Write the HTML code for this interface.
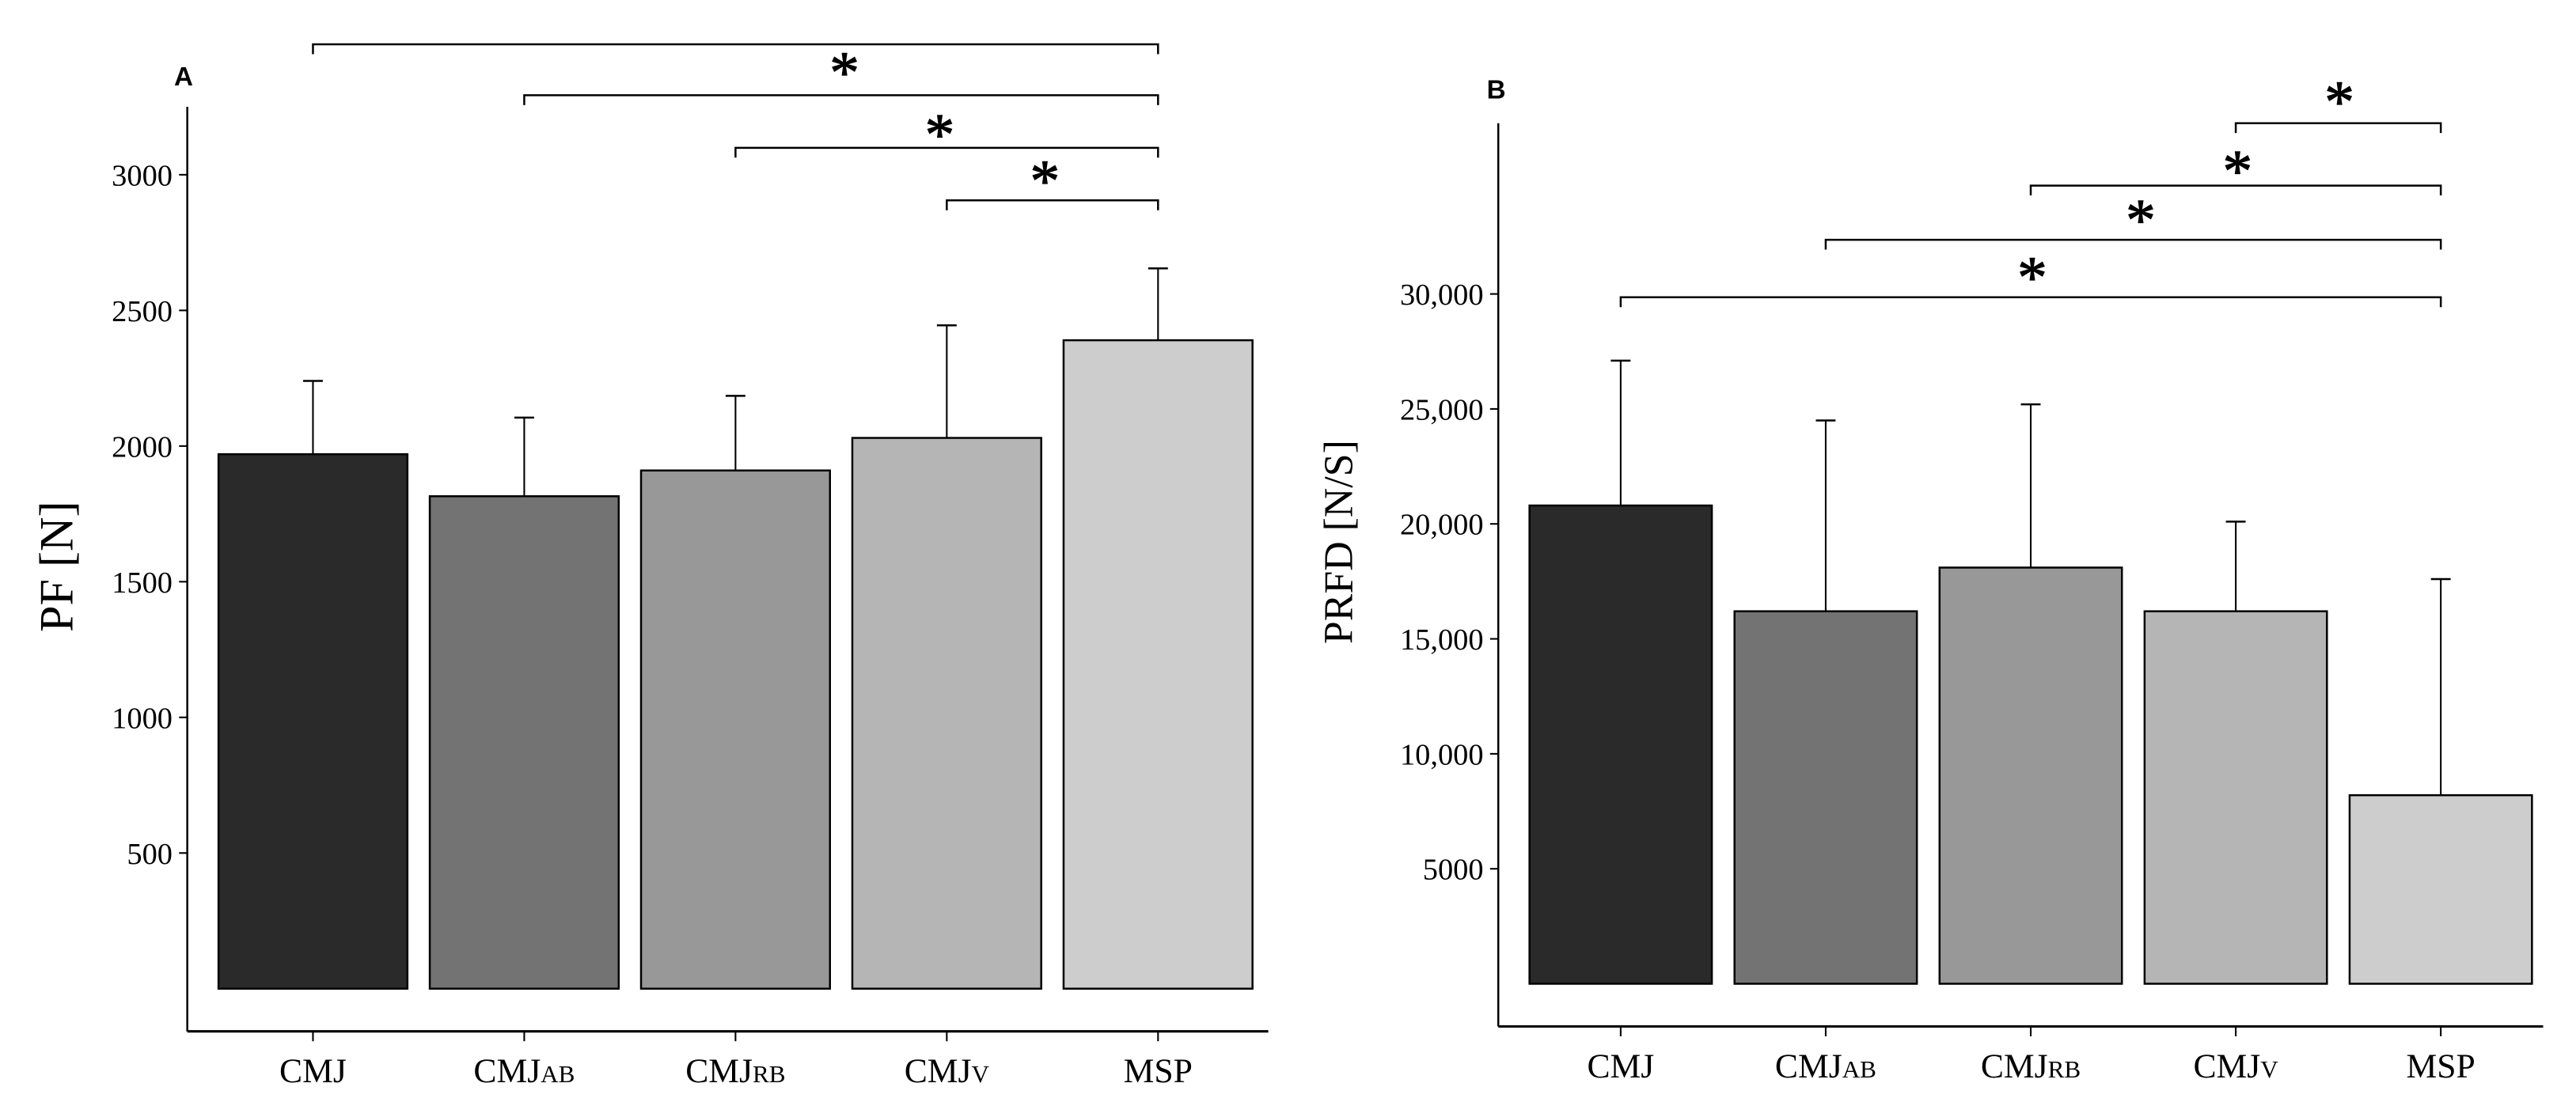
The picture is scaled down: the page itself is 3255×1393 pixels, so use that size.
<!DOCTYPE html>
<html><head><meta charset="utf-8"><style>
html,body{margin:0;padding:0;background:#fff;}
svg{display:block;}
text{font-family:"Liberation Serif",serif;fill:#000;}
</style></head><body>
<svg id="chart" width="3255" height="1393" viewBox="0 0 1568 671" preserveAspectRatio="none" xmlns="http://www.w3.org/2000/svg"></svg>
<script>
const categories = ["CMJ","CMJ|AB","CMJ|RB","CMJ|V","MSP"];
const colors = ["#2a2a2a","#737373","#989898","#b5b5b5","#cdcdcd"];
const pfValues = [1970,1815,1910,2030,2390];
const pfErrors = [270,290,275,415,265];
const pfTicks = [500,1000,1500,2000,2500,3000];
const prfdValues = [20800,16200,18100,16200,8200];
const prfdErrors = [6300,8300,7100,3900,9400];
const prfdTicks = [5000,10000,15000,20000,25000,30000];
const prfdTickLabels = ["5000","10,000","15,000","20,000","25,000","30,000"];
const pfSig = [[0,4],[1,4],[2,4],[3,4]];
const prfdSig = [[3,4],[2,4],[1,4],[0,4]];

const NS="http://www.w3.org/2000/svg";
const svg=document.getElementById('chart');
function mk(tag,attrs,parent){const e=document.createElementNS(NS,tag);for(const k in attrs)e.setAttribute(k,attrs[k]);(parent||svg).appendChild(e);return e;}

function panel(cfg){
  const g=mk('g',{});
  
  
  const y=v=>cfg.y0-(v/cfg.vstep)*cfg.pxstep;
  const barW=cfg.barW, centers=categories.map((c,i)=>cfg.x0c+i*cfg.gap);
  const ya=mk('line',{x1:cfg.ax,y1:cfg.axTop,x2:cfg.ax,y2:cfg.axBot,stroke:'#000','stroke-width':1.2},g);
  
  
  const xa=mk('line',{x1:cfg.ax,y1:cfg.axBot,x2:cfg.axRight,y2:cfg.axBot,stroke:'#000','stroke-width':1.5},g);
  
  
  cfg.ticks.forEach((t,i)=>{
    const yy=y(t);
    mk('line',{x1:cfg.ax-5,y1:yy,x2:cfg.ax,y2:yy,stroke:'#000','stroke-width':1},g);
    const tx=mk('text',{x:cfg.ax-9,y:yy+6.5,'text-anchor':'end','font-size':18.5},g);
    tx.textContent=cfg.tickLabels[i];
    
    
  });
  categories.forEach((c,i)=>{
    const cx=centers[i];
    const top=y(cfg.values[i]), et=y(cfg.values[i]+cfg.errors[i]);
    const el=mk('line',{x1:cx,y1:top,x2:cx,y2:et,stroke:'#000','stroke-width':1},g);
    
    
    mk('line',{x1:cx-6,y1:et,x2:cx+6,y2:et,stroke:'#000','stroke-width':1.2},g);
    const r=mk('rect',{x:cx-barW/2,y:top,width:barW,height:cfg.y0-top,fill:colors[i],stroke:'#000','stroke-width':1.2},g);
    
    
    mk('line',{x1:cx,y1:cfg.axBot,x2:cx,y2:cfg.axBot+6,stroke:'#000','stroke-width':1},g);
    const parts=c.split('|');
    const t=mk('text',{x:cx,y:cfg.axBot+31,'text-anchor':'middle','font-size':21},g);
    
    
    const s1=mk('tspan',{},t);s1.textContent=parts[0];
    if(parts[1]){const s2=mk('tspan',{'font-size':15},t);s2.textContent=parts[1];}
  });
  cfg.sig.forEach((p,i)=>{
    const ly=cfg.sigY[i];
    const x1=centers[p[0]],x2=centers[p[1]];
    const pl=mk('polyline',{points:`${x1},${ly+6} ${x1},${ly} ${x2},${ly} ${x2},${ly+6}`,fill:'none',stroke:'#000','stroke-width':1.2},g);
    
    
    if(cfg.starX[i]!==null){
      const st=mk('text',{x:cfg.starX[i],y:cfg.starY[i]+16,'text-anchor':'middle','font-size':36,stroke:'#000','stroke-width':0.6},g);
      st.textContent='*';
      
      
    }
  });
  const lab=mk('text',{x:cfg.labX,y:cfg.labY,'font-size':16,'font-weight':'bold',style:'font-family:"Liberation Sans",sans-serif'},g);
  lab.textContent=cfg.label;
  
  
  const yt=mk('text',{x:0,y:0,'text-anchor':'middle','font-size':cfg.titleSize,transform:`translate(${cfg.titleX},${cfg.titleY}) rotate(-90)`},g);
  yt.textContent=cfg.title;
  
  
}

panel({name:'panel-a-pf',values:pfValues,errors:pfErrors,ticks:pfTicks,tickLabels:pfTicks.map(String),
  vstep:500,pxstep:82.6,y0:602,ax:114,axTop:65,axBot:628,axRight:772,x0c:190.5,gap:128.6,barW:115,
  sig:pfSig,sigY:[27,58,90,122],starX:[514,572,636,null],starY:[40,78,106,0],
  label:'A',labX:106,labY:52,title:'PF [N]',titleSize:29,titleX:44,titleY:345});
panel({name:'panel-b-prfd',values:prfdValues,errors:prfdErrors,ticks:prfdTicks,tickLabels:prfdTickLabels,
  vstep:5000,pxstep:70,y0:599,ax:912,axTop:75,axBot:625,axRight:1548,x0c:986.5,gap:124.8,barW:111,
  sig:prfdSig,sigY:[75,113,146,181],starX:[1424,1362,1303,1237],starY:[58,100,130,165],
  label:'B',labX:905,labY:60,title:'PRFD [N/S]',titleSize:25,titleX:823,titleY:330});
</script>
</body></html>
